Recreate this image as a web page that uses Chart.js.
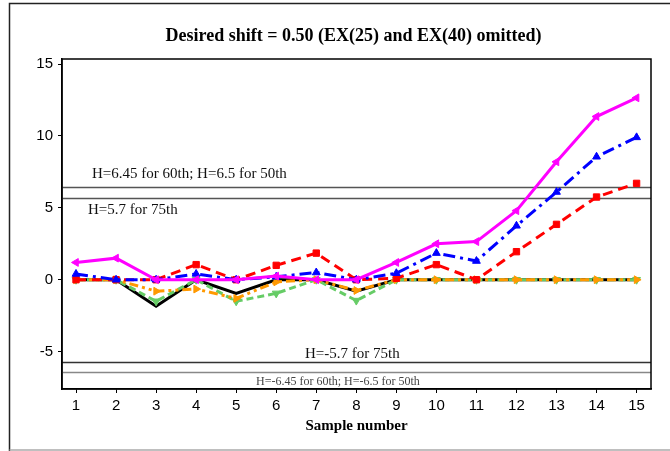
<!DOCTYPE html>
<html>
<head>
<meta charset="utf-8">
<script src="https://cdn.jsdelivr.net/npm/chart.js@4.4.1/dist/chart.umd.min.js"></script>
<style>
  html, body { margin: 0; padding: 0; background: #fff; }
  #wrap { width: 670px; height: 451px; }
</style>
</head>
<body>
<div id="wrap"><canvas id="myChart" width="670" height="451"></canvas></div>
<script>
const samples = [1,2,3,4,5,6,7,8,9,10,11,12,13,14,15];
const y_ticks = [-5, 0, 5, 10, 15];

const magenta_data = [1.2,1.5,0,0,0,0.25,0,0,1.2,2.5,2.65,4.8,8.2,11.35,12.65];
const blue_data    = [0.4,0,0,0.4,0,0.2,0.5,0,0.45,1.85,1.3,3.75,6.1,8.55,9.9];
const red_data     = [0,0,0,1.05,0,1.0,1.85,0,0.1,1.05,0,1.95,3.85,5.75,6.7];
const orange_data  = [0,0,-0.8,-0.65,-1.3,-0.15,0,-0.75,0,0,0,0,0,0,0];
const green_data   = [0,0,-1.5,0,-1.5,-0.95,0,-1.45,0,0,0,0,0,0,0];
const black_data   = [0,0,-1.85,0,-0.95,0,0,-0.8,0,0,0,0,0,0,0];

const ref_values = [6.45, 5.7, -5.7, -6.45];
const ref_labels = [
    "H=6.45 for 60th; H=6.5 for 50th",
    "H=5.7 for 75th",
    "H=-5.7 for 75th",
    "H=-6.45 for 60th; H=-6.5 for 50th",
];

const toXY = arr => arr.map((v, i) => ({x: samples[i], y: v}));

function series(label, data, color, dash, style, rotation) {
    return {
        label: label,
        data: toXY(data),
        borderColor: color,
        backgroundColor: color,
        borderWidth: 3,
        borderDash: dash,
        pointStyle: style,
        pointRotation: rotation,
        pointRadius: style ? 4.5 : 0,
        pointBorderWidth: 1,
        tension: 0,
    };
}

// reference lines, their labels and the frames
const refPlugin = {
    id: 'refLines',
    beforeDatasetsDraw(chart) {
        const {ctx, chartArea: a, scales: {y}} = chart;
        const cols = ['#555', '#555', '#333', '#888'];
        ctx.save();
        ref_values.forEach((v, i) => {
            const py = Math.round(y.getPixelForValue(v)) + 0.5;
            ctx.strokeStyle = cols[i];
            ctx.lineWidth = 1.5;
            ctx.beginPath();
            ctx.moveTo(a.left, py);
            ctx.lineTo(a.right, py);
            ctx.stroke();
        });
        ctx.textBaseline = 'middle';
        ctx.textAlign = 'left';
        const p0 = y.getPixelForValue(ref_values[0]);
        const p1 = y.getPixelForValue(ref_values[1]);
        const p2 = y.getPixelForValue(ref_values[2]);
        const p3 = y.getPixelForValue(ref_values[3]);
        ctx.fillStyle = '#111';
        ctx.font = '15px "Liberation Serif"';
        ctx.fillText(ref_labels[0], a.left + 30, p0 - 13);
        ctx.fillText(ref_labels[1], a.left + 26, p1 + 12);
        ctx.fillText(ref_labels[2], a.left + 243, p2 - 8);
        ctx.fillStyle = '#444';
        ctx.font = '12px "Liberation Serif"';
        ctx.fillText(ref_labels[3], a.left + 194, p3 + 9);
        ctx.restore();
    },
    afterDraw(chart) {
        const {ctx, chartArea: a} = chart;
        ctx.save();
        ctx.strokeStyle = '#000';
        ctx.lineWidth = 1.5;
        ctx.strokeRect(a.left, a.top, a.right - a.left, a.bottom - a.top);
        ctx.strokeStyle = '#222';
        ctx.beginPath();
        ctx.moveTo(9.5, 451);
        ctx.lineTo(9.5, 3.5);
        ctx.lineTo(670, 3.5);
        ctx.stroke();
        ctx.strokeStyle = '#aaa';
        ctx.beginPath();
        ctx.moveTo(9.5, 450);
        ctx.lineTo(670, 450);
        ctx.stroke();
        // title
        ctx.fillStyle = '#000';
        ctx.textAlign = 'center';
        ctx.textBaseline = 'middle';
        ctx.font = 'bold 18px "Liberation Serif"';
        ctx.fillText('Desired shift = 0.50 (EX(25) and EX(40) omitted)', (a.left + a.right) / 2 - 3, 36);
        ctx.restore();
    }
};

const myChart = new Chart('myChart', {
    type: 'line',
    data: {
        datasets: [
            series('Magenta', magenta_data, '#ff00ff', [], 'triangle', 270),
            series('Blue', blue_data, '#0000ff', [12, 5, 3, 5], 'triangle', 0),
            series('Red', red_data, '#ff0000', [10, 6], 'rect', 0),
            series('Orange', orange_data, '#ff9900', [9, 4, 3, 4, 3, 4], 'triangle', 90),
            series('Green', green_data, '#66cc66', [7, 4], 'triangle', 180),
            series('Black', black_data, '#000000', [], false, 0),
        ]
    },
    options: {
        responsive: false,
        animation: false,
        layout: { padding: { top: 59, right: 19, left: 0, bottom: 0 } },
        plugins: {
            legend: { display: false },
            tooltip: { enabled: false },
        },
        scales: {
            x: {
                type: 'linear',
                min: 0.65,
                max: 15.36,
                afterBuildTicks: s => { s.ticks = samples.map(v => ({value: v})); },
                afterFit: s => { s.height = 62; },
                grid: { drawOnChartArea: false, drawTicks: true, tickLength: 4, color: '#000', lineWidth: 1 },
                border: { display: true, color: '#000', width: 1.5 },
                ticks: { color: '#000', padding: 4, font: { family: 'Liberation Sans', size: 15 } },
                title: {
                    display: true,
                    text: 'Sample number',
                    color: '#000',
                    padding: { top: 0, bottom: 16 },
                    font: { family: 'Liberation Serif', size: 15, weight: 'bold' },
                },
            },
            y: {
                min: -7.6,
                max: 15.35,
                afterBuildTicks: s => { s.ticks = y_ticks.map(v => ({value: v})); },
                afterFit: s => { s.width = 62; },
                grid: { drawOnChartArea: false, drawTicks: true, tickLength: 4, color: '#000', lineWidth: 1 },
                border: { display: true, color: '#000', width: 1.5 },
                ticks: { color: '#000', padding: 5, font: { family: 'Liberation Sans', size: 15 } },
            }
        },
        elements: { line: { borderCapStyle: 'butt' } }
    },
    plugins: [refPlugin]
});
</script>
</body>
</html>
